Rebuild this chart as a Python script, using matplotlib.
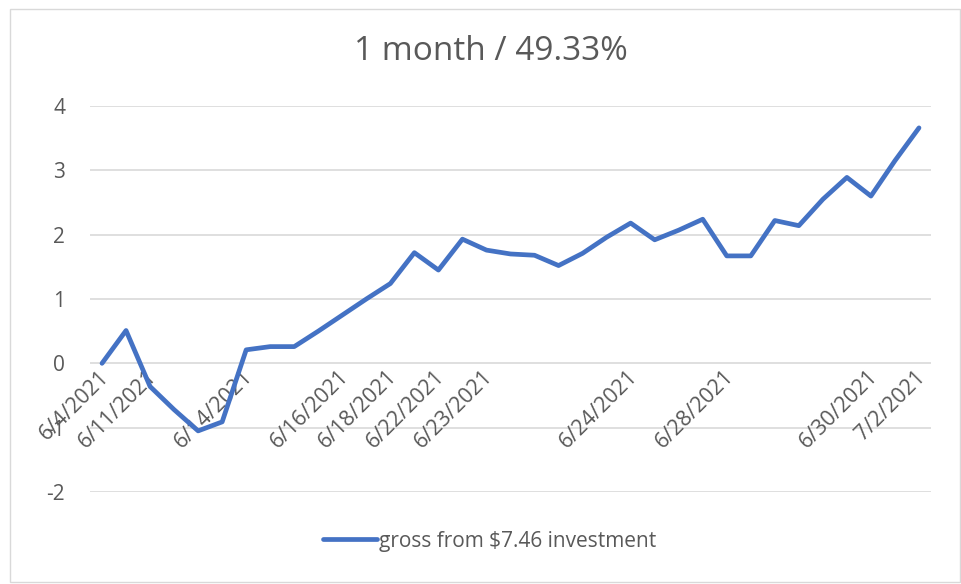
import matplotlib.pyplot as plt
import matplotlib.transforms as mtransforms
from matplotlib.patches import Rectangle

plt.rcParams['font.family'] = ['Open Sans', 'DejaVu Sans']
plt.rcParams['axes.unicode_minus'] = False

# one value per trading entry, labels only where Excel showed them
values = [0.00, 0.51, -0.36, -0.72, -1.05, -0.91, 0.21, 0.26, 0.26, 0.50,
          0.75, 1.00, 1.24, 1.72, 1.45, 1.93, 1.76, 1.70, 1.68, 1.52,
          1.71, 1.96, 2.18, 1.92, 2.07, 2.24, 1.67, 1.67, 2.22, 2.14,
          2.55, 2.89, 2.60, 3.15, 3.66]
labels = [''] * len(values)
shown = {0: '6/4/2021', 2: '6/11/2021', 6: '6/14/2021', 10: '6/16/2021',
         12: '6/18/2021', 14: '6/22/2021', 16: '6/23/2021', 22: '6/24/2021',
         26: '6/28/2021', 32: '6/30/2021', 34: '7/2/2021'}
for k, v in shown.items():
    labels[k] = v

title = '1 month / 49.33%'
series_name = 'gross from $7.46 investment'

grey = '#595959'
fig = plt.figure(figsize=(9.61, 5.84), dpi=100)
fig.patches.append(Rectangle((10 / 961, 2 / 584), 950 / 961, 573 / 584,
                             transform=fig.transFigure, fill=False,
                             edgecolor='#D9D9D9', lw=1))
ax = fig.add_axes([90 / 961, 1 - 492 / 584, 841 / 961, 386 / 584])

x = list(range(len(values)))
ax.plot(x, values, color='#4472C4', lw=3.4, solid_capstyle='round',
        solid_joinstyle='round', label=series_name, zorder=3)

ax.set_xlim(-0.5, len(values) - 0.5)
ax.set_ylim(-2, 4)
ax.set_yticks(range(-2, 5))
ax.grid(axis='y', color='#D9D9D9', lw=1.2)
ax.set_axisbelow(True)
for s in ax.spines.values():
    s.set_visible(False)
ax.set_xticks([])
ax.tick_params(axis='y', length=0, labelsize=15, labelcolor=grey)
ax.yaxis.set_tick_params(pad=18)

# category labels sit on the zero line, like Excel's crossing axis
off = mtransforms.offset_copy(ax.transData, fig=fig, x=-4, y=-3, units='dots')
for i, lab in enumerate(labels):
    if lab:
        ax.text(i, 0, lab, transform=off, rotation=45, rotation_mode='anchor',
                ha='right', va='top', fontsize=15.5, color=grey, zorder=2)

fig.text(491 / 961, 1 - 52 / 584, title, ha='center', va='center',
         fontsize=24, color=grey)

leg = fig.legend(loc='center', bbox_to_anchor=(489.5 / 961, 1 - 541 / 584),
                 frameon=False, fontsize=15, handlelength=2.6,
                 handletextpad=0.1, labelcolor=grey)

fig.savefig('out.png', dpi=100)
